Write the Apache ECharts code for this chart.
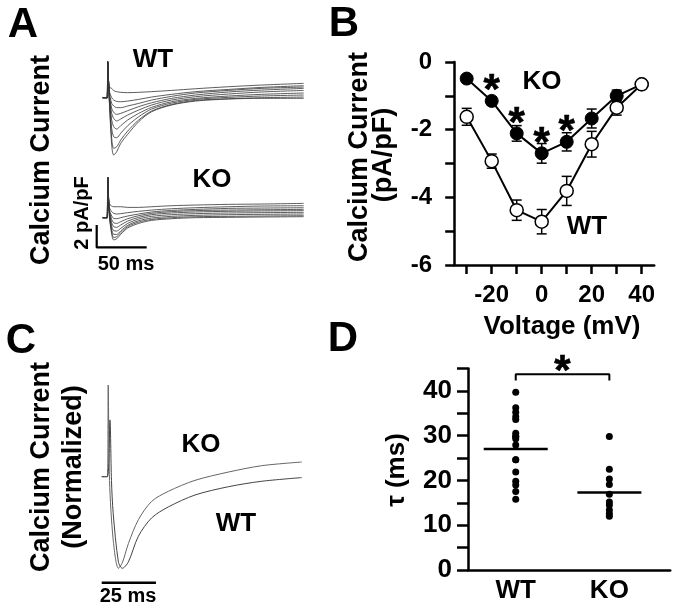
<!DOCTYPE html>
<html><head><meta charset="utf-8">
<script src="https://cdn.jsdelivr.net/npm/echarts@6/dist/echarts.min.js"></script>
<style>html,body{margin:0;padding:0;background:#fff}#c{width:677px;height:609px}</style>
</head><body><div id="c"></div>
<script>
// ---------- Panel A: current traces (time in ms, current in pA/pF) ----------
const traceTimes = [-5, -0.5, 0, 1.5, 4, 6, 9, 13, 20, 31, 44, 64, 88, 121, 154, 196];
const wtTraces = [
  [0,0,3.21,0.98, 0.83,0.63,0.54,0.48,0.45,0.48,0.54,0.65,0.80,0.98,1.13,1.28],
  [0,0,3.21,0.68, 0,-0.21,-0.33,-0.36,-0.30,-0.15,0.06,0.30,0.54,0.74,0.92,1.07],
  [0,0,3.21,0.54, -0.51,-0.74,-0.89,-0.89,-0.74,-0.51,-0.21,0.12,0.42,0.65,0.83,0.95],
  [0,0,3.21,0.39, -0.95,-1.31,-1.49,-1.40,-1.16,-0.80,-0.45,-0.06,0.24,0.51,0.68,0.83],
  [0,0,3.21,0.30, -1.40,-1.85,-2.08,-1.90,-1.55,-1.10,-0.65,-0.21,0.09,0.33,0.51,0.65],
  [0,0,3.21,0.18, -1.99,-2.59,-2.80,-2.50,-1.99,-1.40,-0.86,-0.36,-0.06,0.15,0.30,0.42],
  [0,0,3.21,0.09, -2.74,-3.48,-3.57,-3.18,-2.50,-1.70,-1.01,-0.48,-0.15,0.03,0.15,0.24],
  [0,0,3.21,0, -3.63,-4.52,-4.38,-3.78,-2.98,-1.99,-1.19,-0.60,-0.24,-0.09,0,0.06],
  [0,0,3.21,-0.06, -4.23,-5.12,-4.82,-4.08,-3.27,-2.14,-1.25,-0.65,-0.30,-0.12,-0.06,-0.06]
];
const koTraces = [
  [0,0,3.6,1.28, 1.04,0.98,0.98,0.98,0.92,0.92,0.98,1.07,1.13,1.19,1.22,1.28],
  [0,0,3.6,0.98, 0.54,0.39,0.33,0.36,0.45,0.57,0.68,0.80,0.89,0.98,1.04,1.07],
  [0,0,3.6,0.83, 0.15,-0.06,-0.09,0,0.15,0.33,0.51,0.65,0.74,0.83,0.86,0.89],
  [0,0,3.6,0.74, -0.15,-0.45,-0.51,-0.36,-0.09,0.18,0.39,0.54,0.63,0.68,0.71,0.74],
  [0,0,3.6,0.68, -0.45,-0.80,-0.86,-0.65,-0.30,0.03,0.27,0.42,0.51,0.57,0.60,0.63],
  [0,0,3.6,0.60, -0.74,-1.16,-1.19,-0.95,-0.51,-0.12,0.12,0.27,0.36,0.42,0.45,0.48],
  [0,0,3.6,0.51, -1.04,-1.49,-1.49,-1.19,-0.68,-0.27,-0.03,0.12,0.21,0.27,0.30,0.33],
  [0,0,3.6,0.39, -1.28,-1.76,-1.70,-1.34,-0.80,-0.39,-0.15,0,0.09,0.12,0.15,0.18],
  [0,0,3.6,0.30, -1.46,-1.99,-1.88,-1.49,-0.92,-0.51,-0.24,-0.09,0,0.03,0.06,0.09]
];
const scaleBarA = {ms: 50, pApF: 2};

// ---------- Panel B: I-V relation ----------
const voltages = [-30, -20, -10, 0, 10, 20, 30, 40];
const koIV  = [-0.49, -1.15, -2.11, -2.70, -2.36, -1.67, -1.00, -0.66];
const koErr = [0.08, 0.12, 0.23, 0.29, 0.27, 0.28, 0.17, 0.08];
const wtIV  = [-1.62, -2.93, -4.38, -4.72, -3.81, -2.43, -1.35, -0.66];
const wtErr = [0.25, 0.21, 0.30, 0.36, 0.43, 0.38, 0.22, 0.08];
const sigVoltages = [-20, -10, 0, 10];
const xTicksB = [-30, -20, -10, 0, 10, 20, 30, 40];
const xLabelsB = [-20, 0, 20, 40];

// ---------- Panel C: normalized traces ----------
const cTimesKO = [0, 2.6, 3.0, 3.6, 5.3, 7.7, 9.5, 12.3, 16.9, 23, 30.7, 43, 58.3, 73.7, 92.2];
const koNorm   = [0, 0, 1.00, -0.04, -0.69, -1.0, -0.94, -0.73, -0.47, -0.27, -0.16, -0.04, 0.05, 0.12, 0.16];
const cTimesWT = [0, 2.6, 3.8, 4.5, 5.3, 7.7, 9.5, 12.3, 16.9, 23, 30.7, 43, 58.3, 73.7, 92.2];
const wtNorm   = [0, 0, 0.62, -0.04, -0.40, -0.93, -1.0, -0.93, -0.65, -0.45, -0.33, -0.20, -0.11, -0.05, -0.01];
const scaleBarC = {ms: 25};

// ---------- Panel D: inactivation tau ----------
const groups = ['WT', 'KO'];
const tauWT = [39.7, 36.2, 35.2, 34.2, 33.6, 30.5, 29.8, 29.8, 29.3, 27.9, 24.6, 24.6, 21.9, 19.8, 19.0, 17.5, 15.8];
const tauKO = [29.8, 22.5, 20.3, 19.1, 16.9, 15.2, 14.5, 13.4, 12.6, 12.0];
const tauMeans = [27.0, 17.3];
const bracketY = 43.7;

// ---------- build ----------
const FF = '"Liberation Sans", Arial, sans-serif';
const chart = echarts.init(document.getElementById('c'), null, {renderer: 'canvas'});
const hiddenAxis = (gi, min, max) => ({gridIndex: gi, type: 'value', min, max, show: false});
const axisStyle = {color: '#000', width: 2.5};

const grids = [
  {left: 95.7, top: 58.5, width: 212, height: 106.4},   // 0 A WT
  {left: 95.7, top: 172.9, width: 212, height: 84},     // 1 A KO
  {left: 454.2, top: 62, width: 200, height: 203},      // 2 B
  {left: 97.36, top: 380.5, width: 210.5, height: 210.7}, // 3 C
  {left: 468.0, top: 368.4, width: 202.2, height: 201.6}  // 4 D
].map(g => Object.assign(g, {containLabel: false, outerBoundsMode: 'none'}));

const xAxes = [
  hiddenAxis(0, -12, 200),
  hiddenAxis(1, -12, 200),
  {gridIndex: 2, type: 'value', min: -35, max: 45,
   axisLine: {onZero: false, lineStyle: axisStyle},
   axisTick: {customValues: xTicksB, length: 9, lineStyle: axisStyle},
   axisLabel: {customValues: xLabelsB, fontSize: 24, fontWeight: 'bold', color: '#000', fontFamily: FF, margin: 18},
   splitLine: {show: false}},
  hiddenAxis(3, -2, 95),
  {gridIndex: 4, type: 'value', min: 0.49, max: 2.65,
   axisLine: {onZero: false, lineStyle: axisStyle},
   axisTick: {show: false},
   axisLabel: {customValues: [1, 2], formatter: v => groups[Math.round(v) - 1], fontSize: 26, fontWeight: 'bold', color: '#000', fontFamily: FF, margin: 8},
   splitLine: {show: false}}
];
const yAxes = [
  hiddenAxis(0, -6, 3.5),
  hiddenAxis(1, -3.5, 4),
  {gridIndex: 2, type: 'value', min: -6, max: 0, interval: 1,
   axisLine: {onZero: false, lineStyle: axisStyle},
   axisTick: {length: 9, lineStyle: axisStyle},
   axisLabel: {formatter: v => (Math.round(v) % 2 === 0 ? String(Math.round(v)) : ''), fontSize: 24, fontWeight: 'bold', color: '#000', fontFamily: FF, margin: 22},
   splitLine: {show: false}},
  hiddenAxis(3, -1.25, 1.05),
  {gridIndex: 4, type: 'value', min: 0, max: 45, interval: 5,
   axisLine: {onZero: false, lineStyle: axisStyle},
   axisTick: {length: 11, lineStyle: axisStyle},
   axisLabel: {formatter: v => (Math.round(v) % 10 === 0 ? String(Math.round(v)) : ''), fontSize: 26, fontWeight: 'bold', color: '#000', fontFamily: FF, margin: 16},
   splitLine: {show: false}}
];

const series = [];
const traceLine = (xi, data, color, width) => ({
  type: 'line', xAxisIndex: xi, yAxisIndex: xi, data, symbol: 'none', smooth: 0.3,
  lineStyle: {color, width}, silent: true, clip: false
});
wtTraces.forEach(vals => series.push(traceLine(0, traceTimes.map((t, i) => [t, vals[i]]), '#333', 0.8)));
koTraces.forEach(vals => series.push(traceLine(1, traceTimes.map((t, i) => [t, vals[i]]), '#333', 0.8)));
// scale bar A (in KO grid units)
series.push({type: 'line', xAxisIndex: 1, yAxisIndex: 1, symbol: 'none', clip: false, silent: true,
  data: [[-11, -2.65 + scaleBarA.pApF], [-11, -2.65], [-11 + scaleBarA.ms, -2.65]],
  lineStyle: {color: '#000', width: 2.2}});

// Panel B error bars
const errBar = (vals, errs) => ({
  type: 'custom', xAxisIndex: 2, yAxisIndex: 2, silent: true, z: 1,
  data: voltages.map((v, i) => [v, vals[i], errs[i]]),
  encode: {x: 0, y: 1},
  renderItem: (params, api) => {
    const x = api.value(0), y = api.value(1), e = api.value(2);
    const a = api.coord([x, y + e]), b = api.coord([x, y - e]);
    const hw = 5, st = {stroke: '#000', lineWidth: 1.5};
    return {type: 'group', children: [
      {type: 'line', shape: {x1: a[0], y1: a[1], x2: b[0], y2: b[1]}, style: st},
      {type: 'line', shape: {x1: a[0] - hw, y1: a[1], x2: a[0] + hw, y2: a[1]}, style: st},
      {type: 'line', shape: {x1: b[0] - hw, y1: b[1], x2: b[0] + hw, y2: b[1]}, style: st}
    ]};
  }
});
series.push(errBar(koIV, koErr));
series.push(errBar(wtIV, wtErr));
series.push({type: 'line', xAxisIndex: 2, yAxisIndex: 2, z: 3, data: voltages.map((v, i) => [v, koIV[i]]),
  symbol: 'circle', symbolSize: 13, itemStyle: {color: '#000', borderColor: '#000', borderWidth: 1},
  lineStyle: {color: '#000', width: 2}, silent: true});
series.push({type: 'line', xAxisIndex: 2, yAxisIndex: 2, z: 4, data: voltages.map((v, i) => [v, wtIV[i]]),
  symbol: 'circle', symbolSize: 13, itemStyle: {color: '#fff', borderColor: '#000', borderWidth: 1.5},
  lineStyle: {color: '#000', width: 2}, silent: true});
const starLabel = (dist) => ({show: true, formatter: '*', position: 'top', distance: dist, fontSize: 42, fontWeight: 'bold',
  color: '#000', opacity: 1, fontFamily: FF, textBorderColor: '#000', textBorderWidth: 0.6});
series.push({type: 'scatter', xAxisIndex: 2, yAxisIndex: 2, z: 5, silent: true, symbolSize: 0,
  itemStyle: {color: '#000', opacity: 1},
  data: sigVoltages.map(v => [v, koIV[voltages.indexOf(v)]]),
  label: starLabel(-12)});

// Panel C
series.push(traceLine(3, cTimesKO.map((t, i) => [t, koNorm[i]]), '#666', 1));
series.push(traceLine(3, cTimesWT.map((t, i) => [t, wtNorm[i]]), '#444', 1));
series.push({type: 'line', xAxisIndex: 3, yAxisIndex: 3, symbol: 'none', clip: false, silent: true,
  data: [[0, -1.157], [scaleBarC.ms, -1.157]], lineStyle: {color: '#000', width: 2.5}});

// Panel D
series.push({type: 'scatter', xAxisIndex: 4, yAxisIndex: 4, symbolSize: 7, itemStyle: {color: '#000', opacity: 1}, silent: true,
  data: tauWT.map(v => [1, v])});
series.push({type: 'scatter', xAxisIndex: 4, yAxisIndex: 4, symbolSize: 7, itemStyle: {color: '#000', opacity: 1}, silent: true,
  data: tauKO.map(v => [2, v])});
series.push({type: 'custom', xAxisIndex: 4, yAxisIndex: 4, silent: true, z: 3,
  data: tauMeans.map((m, i) => [i + 1, m]), encode: {x: 0, y: 1},
  renderItem: (params, api) => {
    const p = api.coord([api.value(0), api.value(1)]);
    return {type: 'line', shape: {x1: p[0] - 32, y1: p[1], x2: p[0] + 32, y2: p[1]}, style: {stroke: '#000', lineWidth: 2.5}};
  }});
series.push({type: 'line', xAxisIndex: 4, yAxisIndex: 4, symbol: 'none', silent: true, clip: false,
  data: [[1, bracketY - 1.4], [1, bracketY], [2, bracketY], [2, bracketY - 1.4]],
  lineStyle: {color: '#000', width: 2}});
series.push({type: 'scatter', xAxisIndex: 4, yAxisIndex: 4, symbolSize: 0, silent: true,
  itemStyle: {color: '#000', opacity: 1}, data: [[1.5, bracketY]],
  label: starLabel(-19)});

const txt = (text, x, y, size, rot) => ({
  type: 'text', x, y, rotation: rot ? Math.PI / 2 : 0, silent: true,
  style: {text, font: 'bold ' + size + 'px ' + FF, fill: '#000', align: 'center', verticalAlign: 'middle'}
});
const graphics = [
  txt('A', 23, 25, 42), txt('B', 344, 24, 42), txt('C', 21, 341, 42), txt('D', 343, 339, 42),
  txt('Calcium Current', 42, 160, 27, true),
  txt('WT', 153, 60, 26), txt('KO', 212, 180, 26),
  txt('2 pA/pF', 82, 213, 20, true), txt('50 ms', 126, 264, 20),
  txt('Calcium Current', 360, 157, 27, true), txt('(pA/pF)', 384, 155, 27, true),
  txt('KO', 542, 82, 26), txt('WT', 587, 227, 26),
  txt('Voltage (mV)', 562, 327, 26),
  txt('Calcium Current', 42, 467, 27, true), txt('(Normalized)', 74, 467, 27, true),
  txt('KO', 201, 445, 26), txt('WT', 236, 524, 26),
  txt('25 ms', 128, 596, 20),
  txt('τ (ms)', 397, 470, 26, true)
];

chart.setOption({
  animation: false,
  backgroundColor: '#fff',
  grid: grids, xAxis: xAxes, yAxis: yAxes, series, graphic: graphics
});
</script></body></html>
